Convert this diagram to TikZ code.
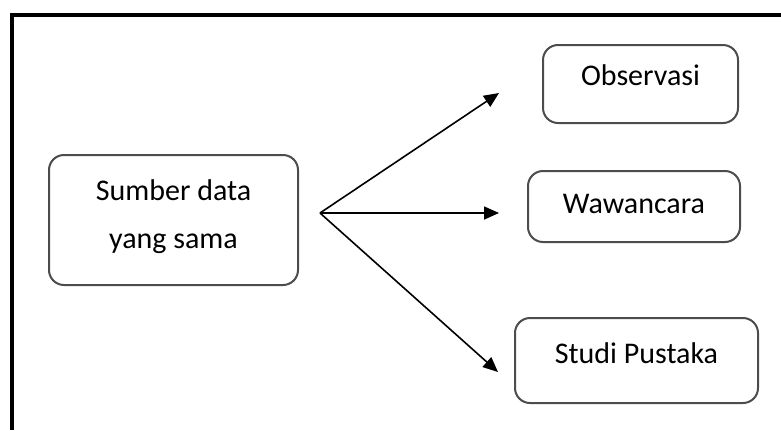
\documentclass[tikz,border=0pt]{standalone}
\usepackage{fontspec}
\setmainfont{Carlito}
\usetikzlibrary{arrows.meta}

\tikzset{
    kotak/.style={draw=black!70, line width=1pt, rounded corners=7.5pt, inner sep=0pt,
                  align=center, font=\fontsize{15}{24}\selectfont},
    panah/.style={line width=0.8pt, -{Triangle[length=7.5pt,width=6.5pt]}}
}

\begin{document}
\begin{tikzpicture}[x=0.5pt, y=-0.5pt]
        \useasboundingbox (0,0) rectangle (781,430);

        % Bingkai
        \draw[line width=2pt] (12,430) -- (12,15) -- (781,15);

        % Kotak
        \node[kotak, minimum width=124.5pt, minimum height=65pt, text depth=6pt]  (sumber)  at (173.5,220) {Sumber data\\yang sama};
        \node[kotak, minimum width=97.5pt,  minimum height=39pt, text depth=9pt]  (observ)  at (640.5,84)  {Observasi};
        \node[kotak, minimum width=106pt,   minimum height=35.5pt, text depth=3pt] (wawan)  at (634,206.5) {Wawancara};
        \node[kotak, minimum width=121.5pt, minimum height=42.5pt, text depth=7pt] (pustaka) at (636.5,360.5) {Studi Pustaka};

        % Panah
        \coordinate (asal) at (320,213);
        \coordinate (t1) at (499,93);
        \coordinate (t2) at (499,213);
        \coordinate (t3) at (498,372);
        \draw[panah] (asal) -- (t1);
        \draw[panah] (asal) -- (t2);
        \draw[panah] (asal) -- (t3);
    \end{tikzpicture}
\end{document}
